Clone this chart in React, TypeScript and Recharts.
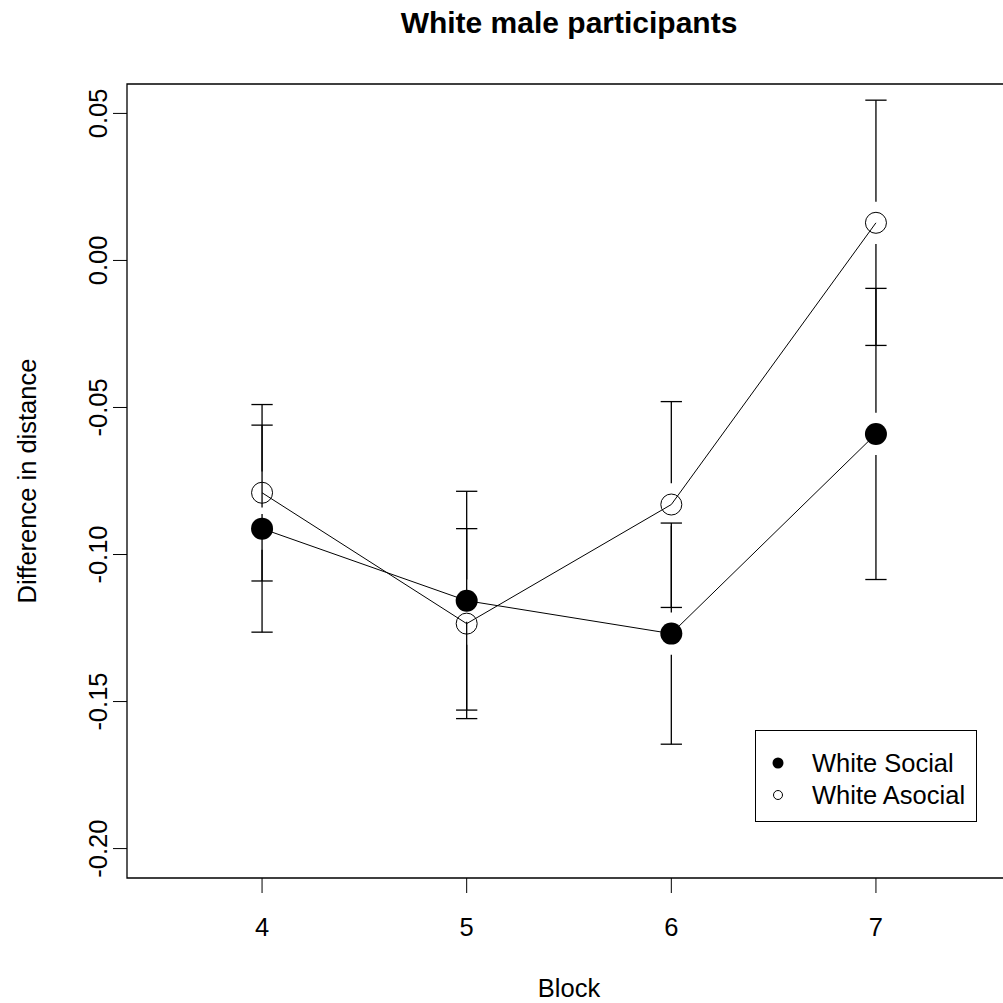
import React from 'react';
import { LineChart, Line, XAxis, YAxis, ReferenceLine, ReferenceArea, Label } from 'recharts';

// block numbers and group means / standard errors
const blocks = [4, 5, 6, 7];
const socialMean = [-0.0912, -0.1157, -0.1269, -0.059];
const socialSe = [0.0352, 0.0372, 0.0376, 0.0495];
const asocialMean = [-0.079, -0.1235, -0.083, 0.0128];
const asocialSe = [0.03, 0.0323, 0.035, 0.0417];

const xTicks = [4, 5, 6, 7];
const yTicks = [-0.2, -0.15, -0.1, -0.05, 0, 0.05];
const xDomain: [number, number] = [3.34, 7.66];
const yDomain: [number, number] = [-0.21, 0.06];

const FONT = '"Liberation Sans", Arial, sans-serif';
const FONT_SIZE = 25.5;
const CAP = 0.052; // half width of error bar caps, x units
const GAP = 0.0072; // gap left around each point, y units

const series = [
  { key: 'social', name: 'White Social', mean: socialMean, se: socialSe, filled: true },
  { key: 'asocial', name: 'White Asocial', mean: asocialMean, se: asocialSe, filled: false },
];

const rows = blocks.map((b, i) => ({ block: b, social: socialMean[i], asocial: asocialMean[i] }));

const errorSegments = series.flatMap((s) =>
  blocks.flatMap((b, i) => {
    const m = s.mean[i];
    const e = s.se[i];
    return [
      [{ x: b, y: m + GAP }, { x: b, y: m + e }],
      [{ x: b, y: m - GAP }, { x: b, y: m - e }],
      [{ x: b - CAP, y: m + e }, { x: b + CAP, y: m + e }],
      [{ x: b - CAP, y: m - e }, { x: b + CAP, y: m - e }],
    ];
  })
);

const YTick = (props: any) => {
  const { x, y, payload } = props;
  return (
    <text x={x} y={y} transform={`rotate(-90, ${x}, ${y})`} textAnchor="middle"
      fontSize={FONT_SIZE} fontFamily={FONT} fill="#000">
      {Number(payload.value).toFixed(2)}
    </text>
  );
};

const XTick = (props: any) => {
  const { x, y, payload } = props;
  return (
    <text x={x} y={y} dy="0.72em" textAnchor="middle" fontSize={FONT_SIZE} fontFamily={FONT} fill="#000">
      {payload.value}
    </text>
  );
};

const App: React.FC = () => {
  return (
    <div style={{ position: 'absolute', left: 0, top: 0, width: 1003, height: 1003, overflow: 'hidden', background: '#fff' }}>
      <div style={{ position: 'absolute', left: 127, top: 8, width: 884, textAlign: 'center', fontFamily: FONT, fontWeight: 'bold', fontSize: 30, lineHeight: '30px', color: '#000' }}>
        White male participants
      </div>
      <LineChart width={1012} height={1003} data={rows} margin={{ top: 84, right: 1, bottom: 0, left: 0 }}>
        <XAxis type="number" dataKey="block" domain={xDomain} ticks={xTicks} allowDataOverflow
          axisLine={false} tickSize={15} tickMargin={25} tick={<XTick />} tickLine={{ stroke: '#000' }} height={125}>
          <Label content={(p: any) => (
            <text x={p.viewBox.x + p.viewBox.width / 2} y={p.viewBox.y + 119} textAnchor="middle"
              fontSize={FONT_SIZE} fontFamily={FONT} fill="#000">Block</text>
          )} />
        </XAxis>
        <YAxis type="number" domain={yDomain} ticks={yTicks} allowDataOverflow
          axisLine={false} tickSize={14} tickMargin={6} tick={<YTick />} tickLine={{ stroke: '#000' }} width={127}>
          <Label content={(p: any) => {
            const x = p.viewBox.x + 36;
            const y = p.viewBox.y + p.viewBox.height / 2;
            return (
              <text x={x} y={y} transform={`rotate(-90, ${x}, ${y})`} textAnchor="middle"
                fontSize={FONT_SIZE} fontFamily={FONT} fill="#000">Difference in distance</text>
            );
          }} />
        </YAxis>
        <ReferenceArea x1={xDomain[0]} x2={xDomain[1]} y1={yDomain[0]} y2={yDomain[1]}
          fill="none" stroke="#000" strokeWidth={1.3} ifOverflow="visible" />
        {errorSegments.map((seg, i) => (
          <ReferenceLine key={i} segment={seg} stroke="#000" strokeWidth={1.3} ifOverflow="visible" />
        ))}
        {series.map((s) => (
          <Line key={s.key} type="linear" dataKey={s.key} name={s.name} stroke="#000" strokeWidth={1}
            isAnimationActive={false} activeDot={false}
            dot={s.filled
              ? { r: 11, fill: '#000', stroke: 'none' }
              : { r: 10.5, fill: 'none', stroke: '#000', strokeWidth: 1 }} />
        ))}
      </LineChart>
      <div style={{ position: 'absolute', left: 755, top: 730, width: 222, height: 92, boxSizing: 'border-box', border: '1px solid #000', background: '#fff', fontFamily: FONT, fontSize: FONT_SIZE, color: '#000' }}>
        {series.map((s, i) => (
          <div key={s.key} style={{ position: 'absolute', left: 0, top: 17 + 32 * i, height: 30, lineHeight: '30px', whiteSpace: 'nowrap' }}>
            <svg width={14} height={14} style={{ position: 'absolute', left: 15, top: 8 }}>
              {s.filled
                ? <circle cx={7} cy={7} r={5.5} fill="#000" />
                : <circle cx={7} cy={7} r={4.5} fill="none" stroke="#000" strokeWidth={1} />}
            </svg>
            <span style={{ position: 'absolute', left: 56 }}>{s.name}</span>
          </div>
        ))}
      </div>
    </div>
  );
};

export default App;
